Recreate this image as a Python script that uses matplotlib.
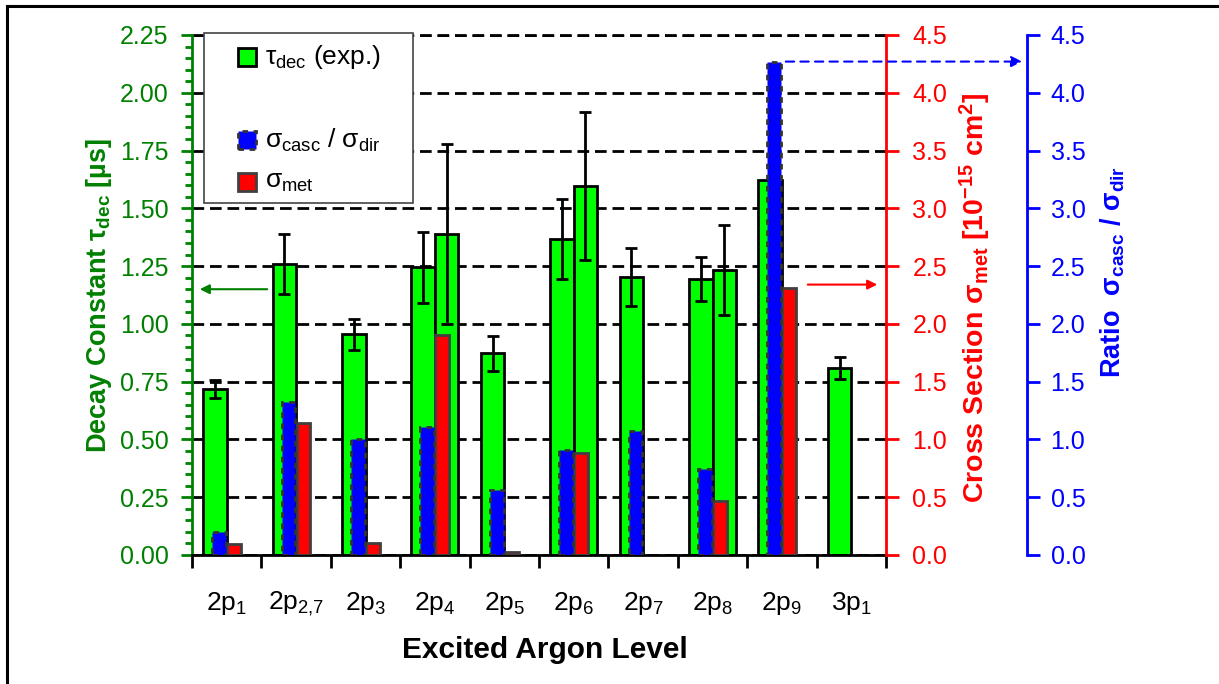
import matplotlib
matplotlib.use("Agg")
import matplotlib.pyplot as plt
import numpy as np
from matplotlib.patches import Rectangle
from matplotlib.lines import Line2D

plt.rcParams['font.family'] = ['Liberation Sans', 'DejaVu Sans']
plt.rcParams['mathtext.fontset'] = 'custom'
plt.rcParams['mathtext.rm'] = 'Liberation Sans'
plt.rcParams['mathtext.it'] = 'Liberation Sans'
plt.rcParams['mathtext.bf'] = 'Liberation Sans:bold'

# ---------------- data ----------------
levels = ['2p$_{1}$', '2p$_{2{,}7}$', '2p$_{3}$', '2p$_{4}$', '2p$_{5}$',
          '2p$_{6}$', '2p$_{7}$', '2p$_{8}$', '2p$_{9}$', '3p$_{1}$']
tau_a = [0.719, 1.26, 0.955, 1.244, 0.872, 1.367, 1.204, 1.194, 1.622, 0.808]
tau_a_err = [0.038, 0.13, 0.068, 0.155, 0.077, 0.172, 0.125, 0.097, np.nan, 0.048]
tau_b = [np.nan, np.nan, np.nan, 1.388, np.nan, 1.596, np.nan, 1.233, np.nan, np.nan]
tau_b_err = [np.nan, np.nan, np.nan, 0.39, np.nan, 0.32, np.nan, 0.196, np.nan, np.nan]
ratio = [0.196, 1.32, 1.0, 1.11, 0.56, 0.91, 1.07, 0.74, 4.27, np.nan]
sigma_met = [0.098, 1.14, 0.10, 1.90, 0.023, 0.885, np.nan, 0.47, 2.31, np.nan]

GREEN_AX = '#008000'
W, H = 1219, 684
fig = plt.figure(figsize=(W / 100, H / 100), dpi=100)
L, R, T, B = 192, 886, 35, 555
ax = fig.add_axes([L / W, 1 - B / H, (R - L) / W, (B - T) / H])
axr = ax.twinx()
axb = ax.twinx()

x = np.arange(len(levels))

# gridlines
GRID_LS = (0, (4.2, 2.1))
ax.set_axisbelow(True)
ax.yaxis.grid(True, which='major', color='black', lw=2.0, linestyle=GRID_LS)
ax.axhline(2.25, color='black', lw=2.0, linestyle=GRID_LS, clip_on=False, zorder=0.6)

# green bars (tau)
ax.bar(x + 0.16, tau_a, width=0.34, align='edge', color='#00FF00',
       edgecolor='black', lw=2.0, zorder=2)
ax.bar(x + 0.50, tau_b, width=0.34, align='edge', color='#00FF00',
       edgecolor='black', lw=2.0, zorder=2)
ax.errorbar(x + 0.33, tau_a, yerr=tau_a_err, fmt='none', ecolor='black',
            elinewidth=2.0, capsize=4, capthick=2.0, zorder=3)
ax.errorbar(x + 0.67, tau_b, yerr=tau_b_err, fmt='none', ecolor='black',
            elinewidth=2.0, capsize=4, capthick=2.0, zorder=3)

# blue bars (ratio)
axb.bar(x + 0.29, ratio, width=0.20, align='edge', color='#0000FF',
        edgecolor='#333333', lw=2.0, linestyle=(0, (2, 2)), zorder=2)
# red bars (cross section)
axr.bar(x + 0.506, sigma_met, width=0.20, align='edge', color='#FF0000',
        edgecolor='#404040', lw=2.0, zorder=2)

# axes limits
ax.set_xlim(0, 10)
ax.set_ylim(0, 2.25)
axr.set_ylim(0, 4.5)
axb.set_ylim(0, 4.5)

# spines
for a in (ax, axr, axb):
    a.spines['top'].set_visible(False)
ax.spines['right'].set_visible(False)
ax.spines['left'].set_color(GREEN_AX)
ax.spines['left'].set_linewidth(2)
ax.spines['bottom'].set_linewidth(2)
axr.spines['right'].set_color('#FF0000')
axr.spines['right'].set_linewidth(2)
for s in ['left', 'bottom']:
    axr.spines[s].set_visible(False)
    axb.spines[s].set_visible(False)
axb.spines['right'].set_position(('axes', (1027 - L) / (R - L)))
axb.spines['right'].set_color('#0000FF')
axb.spines['right'].set_linewidth(2)

# left ticks
ax.set_yticks(np.arange(0, 2.26, 0.25))
ax.set_yticks(np.arange(0, 2.26, 0.05), minor=True)
ax.set_yticklabels(['%.2f' % v for v in np.arange(0, 2.26, 0.25)])
ax.tick_params(axis='y', which='major', direction='out', length=8, width=2,
               color=GREEN_AX, labelcolor=GREEN_AX, labelsize=18, pad=9)
ax.tick_params(axis='y', which='minor', direction='out', length=5, width=2,
               color=GREEN_AX)

# x ticks
ax.set_xticks(np.arange(0, 11, 1))
ax.set_xticklabels([])
ax.set_xticks(x + 0.5, minor=True)
ax.set_xticklabels(levels, minor=True)
ax.tick_params(axis='x', which='major', direction='out', length=9, width=2, color='black')
ax.tick_params(axis='x', which='minor', length=0, labelsize=19, pad=25)

# right axes ticks
axr.set_yticks(np.arange(0, 4.51, 0.5))
axr.set_yticklabels(['%.1f' % v for v in np.arange(0, 4.51, 0.5)])
axr.tick_params(axis='y', direction='out', length=9, width=2, color='#FF0000',
                labelcolor='#FF0000', labelsize=18, pad=10)
axb.set_yticks(np.arange(0, 4.51, 0.5))
axb.set_yticklabels(['%.1f' % v for v in np.arange(0, 4.51, 0.5)])
axb.tick_params(axis='y', direction='out', length=9, width=2, color='#0000FF',
                labelcolor='#0000FF', labelsize=18, pad=8)

# axis titles
def fx(px):
    return px / W

def fy(py):
    return 1 - py / H

fig.text(fx(99), fy(295), r'Decay Constant $\mathbf{\tau_{dec}}$ [µs]', rotation=90,
         ha='center', va='center', fontsize=19.5, fontweight='bold', color=GREEN_AX)
fig.text(fx(975), fy(298), r'Cross Section $\mathbf{\sigma_{met}}$ $\mathbf{[10^{-15}}$ $\mathbf{cm^{2}]}$',
         rotation=90, ha='center', va='center', fontsize=20.5, fontweight='bold', color='#FF0000')
fig.text(fx(1113), fy(272), r'Ratio  $\mathbf{\sigma_{casc}}$ / $\mathbf{\sigma_{dir}}$', rotation=90,
         ha='center', va='center', fontsize=19.5, fontweight='bold', color='#0000FF')
fig.text(fx(545), fy(650), 'Excited Argon Level', ha='center', va='center',
         fontsize=21.5, fontweight='bold', color='black')

# arrows
pxu = (R - L) / 10.0
ax.annotate('', xy=((197 - L) / pxu, 1.15), xytext=((270 - L) / pxu, 1.15),
            arrowprops=dict(arrowstyle='-|>', color=GREEN_AX, lw=1.5, mutation_scale=14),
            annotation_clip=False)
axr.annotate('', xy=((880 - L) / pxu, 2.34), xytext=((805 - L) / pxu, 2.34),
             arrowprops=dict(arrowstyle='-|>', color='#FF0000', lw=1.5, mutation_scale=14),
             annotation_clip=False)
axb.annotate('', xy=((1025 - L) / pxu, 4.27), xytext=((783 - L) / pxu, 4.27),
             arrowprops=dict(arrowstyle='-|>', color='#0000FF', lw=1.5,
                             linestyle=(0, (4, 3)), mutation_scale=16),
             annotation_clip=False)

# legend (manual box)
fig.patches.append(Rectangle((fx(204), fy(203)), fx(413) - fx(204), fy(33) - fy(203),
                             transform=fig.transFigure, facecolor='white',
                             edgecolor='#444444', lw=1.2, zorder=10))
entries = [(57, '#00FF00', 'black', 'solid', r'$\tau_{dec}$ (exp.)'),
           (140, '#0000FF', '#333333', (0, (2, 2)), r'$\sigma_{casc}$ / $\sigma_{dir}$'),
           (182, '#FF0000', '#404040', 'solid', r'$\sigma_{met}$')]
for yc, fc, ec, ls, lab in entries:
    fig.patches.append(Rectangle((fx(238), fy(yc + 9)), fx(256) - fx(238), fy(yc - 9) - fy(yc + 9),
                                 transform=fig.transFigure, facecolor=fc, edgecolor=ec,
                                 lw=2, linestyle=ls, zorder=11))
    fig.text(fx(265), fy(yc), lab, ha='left', va='center', fontsize=19, zorder=12)

# outer frame lines
fig.add_artist(Line2D([fx(7), fx(7)], [fy(6), 0], transform=fig.transFigure, color='black', lw=2.2))
fig.add_artist(Line2D([fx(7), 1], [fy(6), fy(6)], transform=fig.transFigure, color='black', lw=2.2))

fig.savefig('out.png', dpi=100)
